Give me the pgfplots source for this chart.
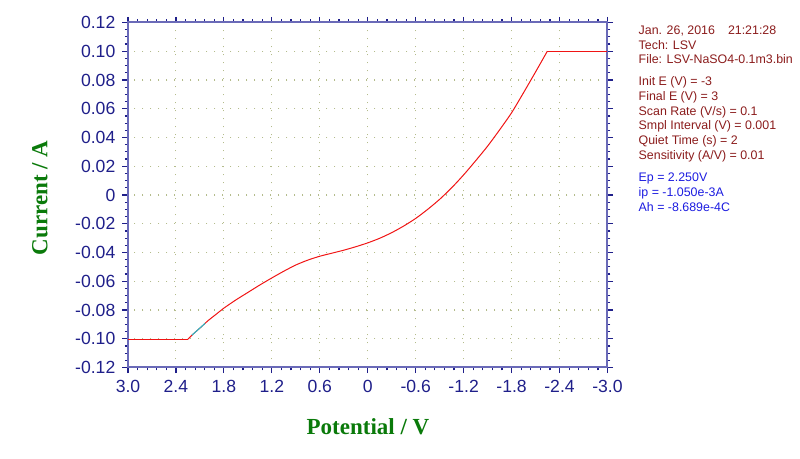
\documentclass[border=0pt]{standalone}
\usepackage{fontspec}
\setmainfont{Liberation Sans}
\newfontfamily\serifb{Liberation Serif}
\usepackage{pgfplots}
\pgfplotsset{compat=1.18}
\definecolor{axblue}{HTML}{6A6AB8}
\definecolor{tickblue}{HTML}{1F1F8A}
\definecolor{labgreen}{HTML}{0A7A0A}
\definecolor{gridc}{HTML}{B4BC8C}
\definecolor{infored}{HTML}{8B1C1C}
\definecolor{infoblue}{HTML}{1C1CE0}
\definecolor{curvered}{HTML}{F01414}
\definecolor{basecyan}{HTML}{20C0D0}

\begin{document}
\begin{tikzpicture}[x=0.5pt,y=0.5pt]
% 1 unit = 1 px of the 800x459 reference; origin = lower left corner of the axis
\path[use as bounding box] (-128,-91.5) rectangle (672,367.5);
\begin{axis}[
  at={(0,0)}, anchor=south west,
  scale only axis,
  width=239.75pt, height=172.5pt,
  xmin=-3, xmax=3, x dir=reverse,
  ymin=-0.12, ymax=0.12,
  xtick={3,2.4,1.8,1.2,0.6,0,-0.6,-1.2,-1.8,-2.4,-3},
  xticklabels={3.0,2.4,1.8,1.2,0.6,0,-0.6,-1.2,-1.8,-2.4,-3.0},
  ytick={-0.12,-0.1,-0.08,-0.06,-0.04,-0.02,0,0.02,0.04,0.06,0.08,0.1,0.12},
  yticklabels={-0.12,-0.10,-0.08,-0.06,-0.04,-0.02,0,0.02,0.04,0.06,0.08,0.10,0.12},
  minor x tick num=4,
  minor y tick num=3,
  tick align=outside,
  major tick length=2.8pt,
  minor tick length=1.5pt,
  tick style={tickblue, line width=0.6pt},
  axis line style={axblue, line width=1pt},
  grid=major,
  major grid style={gridc, line width=0.55pt, dash pattern=on 0.55pt off 3.45pt},
  ticklabel style={font=\fontsize{8.8}{10}\selectfont, text=tickblue},
  xlabel={\serifb\bfseries Potential / V},
  ylabel={\serifb\bfseries Current / A},
  xlabel style={at={(axis description cs:0.5005,-0.1725)}, anchor=center,
    font=\fontsize{11.5}{13}\selectfont, text=labgreen},
  ylabel style={at={(axis description cs:-0.1835,0.491)}, anchor=center,
    font=\fontsize{11.5}{13}\selectfont, text=labgreen},
]
% current limits (flat parts)
\addplot[curvered, line width=0.5pt] coordinates {(3.0,-0.1003) (2.25,-0.1003)};
\addplot[curvered, line width=0.5pt] coordinates {(-2.247,0.1000) (-3.0,0.1000)};
% scan
\addplot[curvered, line width=0.5pt, smooth, tension=0.4] coordinates {
  (2.25,-0.1003) (2.2,-0.0975) (2.1,-0.0926) (2.0,-0.0875) (1.9,-0.0831)
  (1.8,-0.0787) (1.65,-0.0730) (1.5,-0.0678) (1.35,-0.0626) (1.2,-0.0577)
  (1.05,-0.0530) (0.9,-0.0487) (0.75,-0.0453) (0.6,-0.0426) (0.45,-0.0405)
  (0.3,-0.0384) (0.15,-0.0360) (0.0,-0.0333) (-0.15,-0.0301) (-0.3,-0.0262)
  (-0.45,-0.0216) (-0.6,-0.0163) (-0.75,-0.0100) (-0.9,-0.0030) (-1.05,0.0050)
  (-1.2,0.0140) (-1.35,0.0238) (-1.5,0.0340) (-1.65,0.0453) (-1.8,0.0572)
  (-1.95,0.0712) (-2.1,0.0856) (-2.247,0.1000)
};
\addplot[basecyan, line width=0.5pt] coordinates {(2.2,-0.0975) (2.035,-0.0893)};
\end{axis}
\begin{scope}[every node/.style={anchor=base west, inner sep=0pt,
    font=\fontsize{6.2}{7}\selectfont}]
  \node[text=infored] at (510.3,333.2) {Jan. 26, 2016\hspace{1.05em}21:21:28};
  \node[text=infored] at (510.3,318.2) {Tech: LSV};
  \node[text=infored] at (510.3,303.5) {File: LSV-NaSO4-0.1m3.bin};
  \node[text=infored] at (510.3,281.8) {Init E (V) = -3};
  \node[text=infored] at (510.3,266.8) {Final E (V) = 3};
  \node[text=infored] at (510.3,252.2) {Scan Rate (V/s) = 0.1};
  \node[text=infored] at (510.3,237.5) {Smpl Interval (V) = 0.001};
  \node[text=infored] at (510.3,222.5) {Quiet Time (s) = 2};
  \node[text=infored] at (510.3,207.5) {Sensitivity (A/V) = 0.01};
  \node[text=infoblue] at (510.3,185.8) {Ep = 2.250V};
  \node[text=infoblue] at (510.3,170.8) {ip = -1.050e-3A};
  \node[text=infoblue] at (510.3,155.8) {Ah = -8.689e-4C};
\end{scope}
\end{tikzpicture}
\end{document}
